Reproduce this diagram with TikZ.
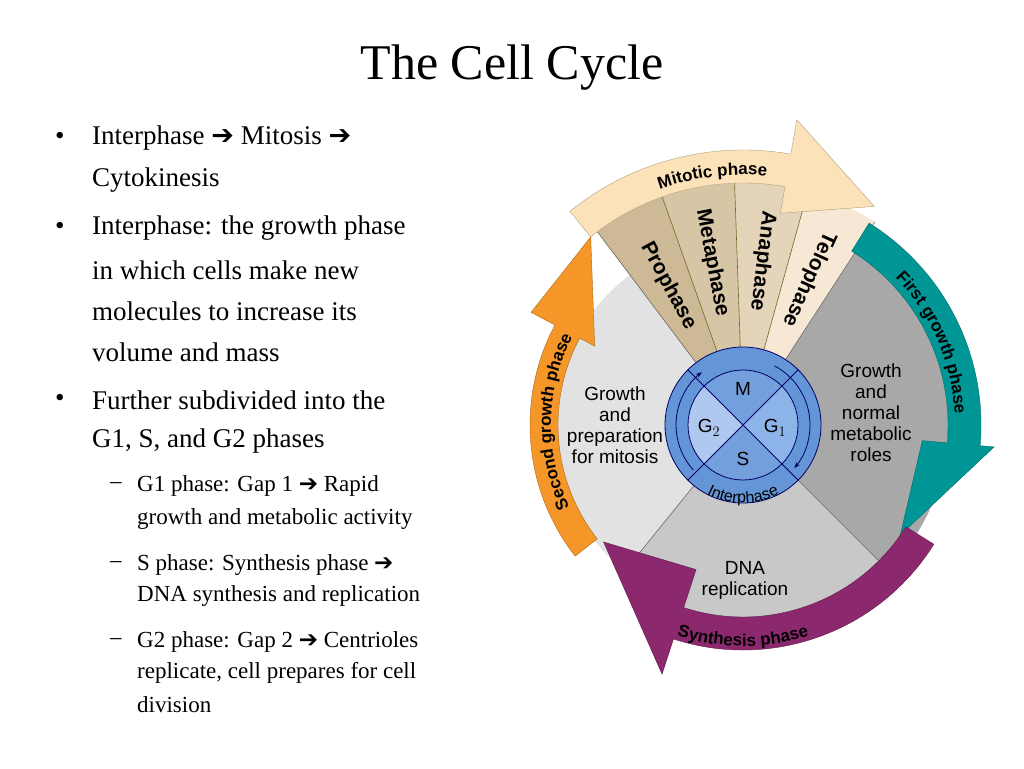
\documentclass[tikz,border=0pt]{standalone}
\usepackage{fontspec}
\setmainfont{Liberation Serif}
\setsansfont{Liberation Sans}
\newfontfamily\symfont{DejaVu Sans}
\usetikzlibrary{decorations.text, arrows.meta}

\definecolor{proph}{RGB}{205,185,150}
\definecolor{metaph}{RGB}{215,198,165}
\definecolor{anaph}{RGB}{228,212,185}
\definecolor{teloph}{RGB}{246,232,212}
\definecolor{gone}{RGB}{168,168,168}
\definecolor{sphase}{RGB}{200,200,200}
\definecolor{gtwo}{RGB}{226,226,226}
\definecolor{mitcol}{RGB}{252,226,185}
\definecolor{tealcol}{RGB}{0,150,150}
\definecolor{purpcol}{RGB}{140,40,110}
\definecolor{orngcol}{RGB}{245,150,40}
\definecolor{ringcol}{RGB}{100,150,215}
\definecolor{quadmid}{RGB}{115,160,220}
\definecolor{quadlt}{RGB}{175,200,240}
\definecolor{quadg}{RGB}{140,180,232}

\newcommand{\rarr}{{\symfont\char"2794}}
% band arrow: colour, r in, r out, start, head base, tip angle, head in, head out, tip radius
\newcommand{\bandarrow}[9]{%
  \fill[#1,draw=#1!70!black] (#4:#2) arc[start angle=#4,end angle=#5,radius=#2]
    -- (#5:#7) -- (#6:#9) -- (#5:#8) -- (#5:#3)
    arc[start angle=#5,end angle=#4,radius=#3] -- cycle;}
\newcommand{\sector}[4]{%
  \fill[#1] (0,0) -- (#2:#4) arc[start angle=#2,end angle=#3,radius=#4] -- cycle;}

\tikzset{
  bullet/.style={anchor=west, font=\fontsize{27}{30}\selectfont, inner sep=0},
  subbullet/.style={anchor=west, font=\fontsize{23}{26}\selectfont, inner sep=0},
  sectxt/.style={font=\sffamily\fontsize{19}{21}\selectfont, align=center},
  radtxt/.style={font=\sffamily\bfseries\fontsize{21}{23}\selectfont},
  quadtxt/.style={font=\sffamily\fontsize{19}{21}\selectfont},
  divline/.style={draw=black!60, line width=0.6}
}

\begin{document}
\begin{tikzpicture}[x=1pt, y=1pt]
\useasboundingbox (0,0) rectangle (1024,768);

% title and text
\node[font=\fontsize{50}{54}\selectfont] (title) at (512,700) {The Cell Cycle};
\foreach \yy in {630,540,368} \node[bullet] at (55,\yy) {•};
\node[bullet] (l1) at (92,630) {Interphase \rarr\ Mitosis \rarr};
\node[bullet] (l2) at (92,588) {Cytokinesis};
\node[bullet] (l3) at (92,540) {Interphase: the growth phase};
\node[bullet] (l4) at (92,498) {in which cells make new};
\node[bullet] (l5) at (92,457) {molecules to increase its};
\node[bullet] (l6) at (92,416) {volume and mass};
\node[bullet] (l7) at (92,368) {Further subdivided into the};
\node[bullet] (l8) at (92,327) {G1, S, and G2 phases};
\foreach \yy in {282,203,126} \node[subbullet] at (110,\yy) {–};
\node[subbullet] (s1) at (137,282) {G1 phase: Gap 1 \rarr\ Rapid};
\node[subbullet] (s2) at (137,249) {growth and metabolic activity};
\node[subbullet] (s3) at (137,203) {S phase: Synthesis phase \rarr};
\node[subbullet] (s4) at (137,172) {DNA synthesis and replication};
\node[subbullet] (s5) at (137,126) {G2 phase: Gap 2 \rarr\ Centrioles};
\node[subbullet] (s6) at (137,95) {replicate, cell prepares for cell};
\node[subbullet] (s7) at (137,63) {division};

\begin{scope}[shift={(743,343)}]
% sectors
\sector{gone}{-45}{57}{205}
\sector{sphase}{231}{315}{194}
\sector{gtwo}{127}{231}{188}
\sector{teloph}{57}{74.5}{242}
\sector{anaph}{74.5}{92}{242}
\sector{metaph}{92}{109.5}{242}
\sector{proph}{109.5}{127}{242}
\draw[divline] (0,0) -- (57:205) (0,0) -- (127:188) (0,0) -- (231:188) (0,0) -- (315:194);
\foreach \a in {74.5,92,109.5} \draw[draw=olive!70!black, line width=0.6] (0,0) -- (\a:242);
\draw[divline] (57:205) -- (57:242) (127:188) -- (127:242);

\node[radtxt, rotate=-61.75] (pro) at (118.25:158) {Prophase};
\node[radtxt, rotate=-79.25] (met) at (100.75:165) {Metaphase};
\node[radtxt, rotate=-96.75] (ana) at (83.25:165) {Anaphase};
\node[radtxt, rotate=-114.25] (tel) at (65.75:160) {Telophase};
\node[sectxt] (g2txt) at (-128,0) {Growth\\and\\preparation\\for mitosis};
\node[sectxt] (g1txt) at (128,12) {Growth\\and\\normal\\metabolic\\roles};
\node[sectxt] (dnatxt) at (2,-155) {DNA\\replication};

% phase arrows
\bandarrow{tealcol}{205}{238}{58}{-5}{-35}{180}{252}{192}
\bandarrow{purpcol}{192}{225}{-32}{-108}{-140}{152}{262}{182}
\bandarrow{orngcol}{185}{213}{218}{152}{129}{168}{240}{242}
\bandarrow{mitcol}{242}{275}{129}{80}{59}{215}{310}{255}
\path[decorate, decoration={text along path, text align=center,
  text={|\sffamily\bfseries\fontsize{17}{19}\selectfont|Mitotic phase}}]
  (122:250) arc[start angle=122,end angle=72,radius=250];
\path[decorate, decoration={text along path, text align=center,
  text={|\sffamily\bfseries\fontsize{17}{19}\selectfont|First growth phase}}]
  (55:212) arc[start angle=55,end angle=-8,radius=212];
\path[decorate, decoration={text along path, text align=center,
  text={|\sffamily\bfseries\fontsize{17}{19}\selectfont|Synthesis phase}}]
  (240:221) arc[start angle=240,end angle=300,radius=221];
\path[decorate, decoration={text along path, text align=center,
  text={|\sffamily\bfseries\fontsize{17}{19}\selectfont|Second growth phase}}]
  (218:192) arc[start angle=218,end angle=140,radius=192];

% interphase wheel
\fill[ringcol, draw=blue!40!black, line width=0.8] (0,0) circle[radius=78];
\fill[quadmid] (0,0) -- (45:55) arc[start angle=45,end angle=135,radius=55] -- cycle;
\fill[quadlt] (0,0) -- (135:55) arc[start angle=135,end angle=225,radius=55] -- cycle;
\fill[quadmid] (0,0) -- (225:55) arc[start angle=225,end angle=315,radius=55] -- cycle;
\fill[quadg] (0,0) -- (-45:55) arc[start angle=-45,end angle=45,radius=55] -- cycle;
\draw[blue!40!black, line width=0.8] (0,0) circle[radius=55];
\draw[blue!40!black, line width=0.8] (135:78) -- (-45:78) (45:78) -- (225:78);
\draw[blue!40!black, line width=0.8, -{Stealth[length=6pt]}] (62:67) arc[start angle=62,end angle=-40,radius=67];
\draw[blue!40!black, line width=0.8, -{Stealth[length=6pt]}] (222:67) arc[start angle=222,end angle=128,radius=67];
\node[quadtxt] (mq) at (0,36) {M};
\node[quadtxt] (g2q) at (-34,-3) {G$_2$};
\node[quadtxt] (g1q) at (32,-3) {G$_1$};
\node[quadtxt] (sq) at (0,-34) {S};
\path[decorate, decoration={text along path, text align=center,
  text={|\sffamily\fontsize{16}{18}\selectfont|Interphase}}]
  (232:78) arc[start angle=232,end angle=308,radius=78];
\end{scope}
\end{tikzpicture}
\end{document}
